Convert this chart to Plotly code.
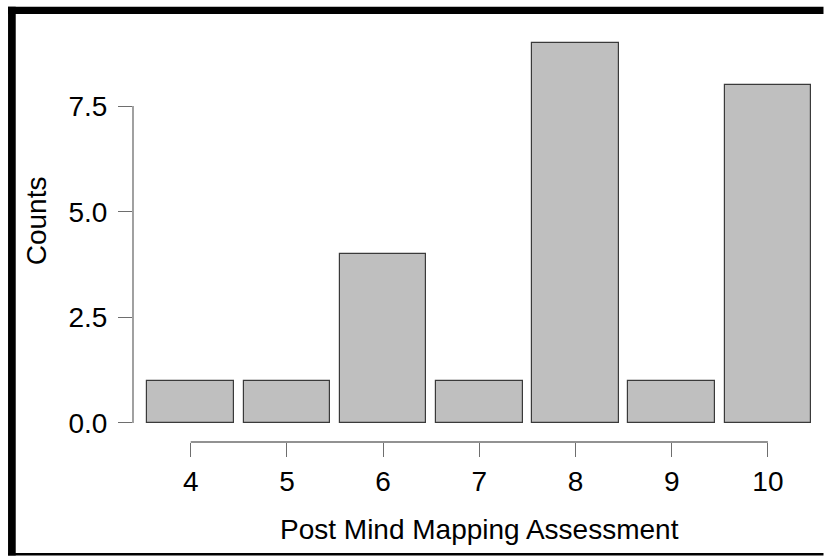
import plotly.graph_objects as go

# ---- data ----
scores = [4, 5, 6, 7, 8, 9, 10]
counts = [1, 1, 4, 1, 9, 1, 8]
y_ticks = [0, 2.5, 5, 7.5]
y_tick_labels = ["0.0", "2.5", "5.0", "7.5"]
x_title = "Post Mind Mapping Assessment"
y_title = "Counts"

# ---- layout geometry (pixels) ----
W, H = 824, 556
L, R, T, B = 133.3, 7.5, 30, 113.7
PW = W - L - R
PH = H - T - B


def px_x(x):
    return (x - L) / PW


def px_y(y):
    return (H - B - y) / PH


FONT = "Liberation Sans, Arial, Helvetica, sans-serif"
AXIS_COL = "#6e6e6e"
FS = 28

fig = go.Figure()
fig.add_trace(go.Bar(
    x=scores, y=counts, width=0.9,
    marker=dict(color="#bfbfbf", line=dict(color="#3a3a3a", width=1.2)),
    hoverinfo="x+y",
))

shapes = [
    # x axis line from first to last category
    dict(type="line", xref="x", yref="paper", x0=min(scores), x1=max(scores),
         y0=0, y1=0, line=dict(color=AXIS_COL, width=1.3)),
    # y axis line from first to last tick
    dict(type="line", xref="paper", yref="y", x0=0, x1=0,
         y0=min(y_ticks), y1=max(y_ticks), line=dict(color=AXIS_COL, width=1.3)),
    # black frame (top, left, bottom)
    dict(type="rect", xref="paper", yref="paper", x0=px_x(8.3), x1=px_x(824),
         y0=px_y(14), y1=px_y(6.7), fillcolor="black", line=dict(width=0), layer="above"),
    dict(type="rect", xref="paper", yref="paper", x0=px_x(8.3), x1=px_x(16),
         y0=px_y(556), y1=px_y(6.7), fillcolor="black", line=dict(width=0), layer="above"),
    dict(type="rect", xref="paper", yref="paper", x0=px_x(8.3), x1=px_x(824),
         y0=px_y(556), y1=px_y(553.3), fillcolor="black", line=dict(width=0), layer="above"),
]

annotations = [
    dict(text=x_title, xref="paper", yref="paper", x=px_x(479.5), y=px_y(530),
         xanchor="center", yanchor="middle", showarrow=False,
         font=dict(family=FONT, size=FS, color="black")),
    dict(text=y_title, xref="paper", yref="paper", x=px_x(36.7), y=px_y(221),
         xanchor="center", yanchor="middle", showarrow=False, textangle=-90,
         font=dict(family=FONT, size=FS, color="black")),
]

fig.update_layout(
    width=W, height=H,
    margin=dict(l=L, r=R, t=T, b=B, pad=0),
    paper_bgcolor="white", plot_bgcolor="white",
    showlegend=False,
    bargap=0,
    shapes=shapes,
    annotations=annotations,
    font=dict(family=FONT, size=FS, color="black"),
    xaxis=dict(range=[3.4, 10.5], tickvals=scores, ticktext=[str(s) for s in scores],
               ticks="outside", ticklen=14, tickwidth=1.3, tickcolor=AXIS_COL,
               showline=False, showgrid=False, zeroline=False,
               tickfont=dict(family=FONT, size=FS, color="black")),
    yaxis=dict(range=[-0.45, 9.3], tickvals=y_ticks, ticktext=y_tick_labels,
               ticks="outside", ticklen=14, tickwidth=1.3, tickcolor=AXIS_COL,
               showline=False, showgrid=False, zeroline=False, ticklabelstandoff=5,
               tickfont=dict(family=FONT, size=FS, color="black")),
)

fig.write_html("out.html")
